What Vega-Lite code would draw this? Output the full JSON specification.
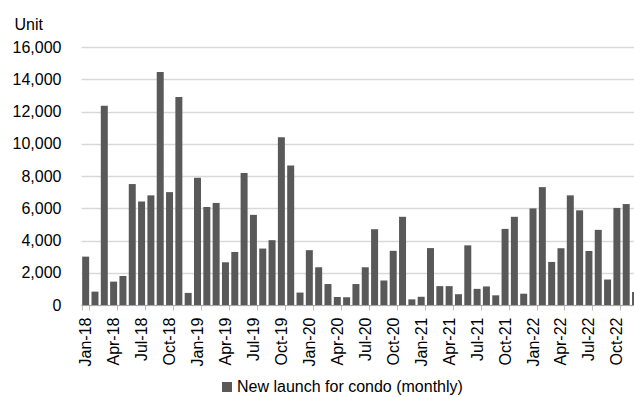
{
  "$schema": "https://vega.github.io/schema/vega-lite/v6.json",
  "autosize": {"type": "none"},
  "width": 553,
  "height": 258,
  "padding": {"left": 81, "top": 47, "right": 0, "bottom": 92},
  "background": "white",
  "config": {"font": "Liberation Sans", "view": {"stroke": null}},
  "title": {
    "text": "Figure 2: New launch for condo (2018-2022)",
    "anchor": "start",
    "frame": "group",
    "fontSize": 16,
    "fontWeight": "bold",
    "color": "#000000",
    "baseline": "alphabetic",
    "offset": 0,
    "dx": -65,
    "dy": -4
  },
  "data": {
    "values": [
      {"month": "Jan-18", "units": 3000}, {"month": "Feb-18", "units": 830}, {"month": "Mar-18", "units": 12360},
      {"month": "Apr-18", "units": 1450}, {"month": "May-18", "units": 1800}, {"month": "Jun-18", "units": 7500},
      {"month": "Jul-18", "units": 6420}, {"month": "Aug-18", "units": 6800}, {"month": "Sep-18", "units": 14450},
      {"month": "Oct-18", "units": 7000}, {"month": "Nov-18", "units": 12900}, {"month": "Dec-18", "units": 750},
      {"month": "Jan-19", "units": 7890}, {"month": "Feb-19", "units": 6070}, {"month": "Mar-19", "units": 6330},
      {"month": "Apr-19", "units": 2650}, {"month": "May-19", "units": 3290}, {"month": "Jun-19", "units": 8180},
      {"month": "Jul-19", "units": 5590}, {"month": "Aug-19", "units": 3500}, {"month": "Sep-19", "units": 4020},
      {"month": "Oct-19", "units": 10400}, {"month": "Nov-19", "units": 8650}, {"month": "Dec-19", "units": 770},
      {"month": "Jan-20", "units": 3400}, {"month": "Feb-20", "units": 2340}, {"month": "Mar-20", "units": 1300},
      {"month": "Apr-20", "units": 500}, {"month": "May-20", "units": 480}, {"month": "Jun-20", "units": 1300},
      {"month": "Jul-20", "units": 2340}, {"month": "Aug-20", "units": 4700}, {"month": "Sep-20", "units": 1520},
      {"month": "Oct-20", "units": 3360}, {"month": "Nov-20", "units": 5470}, {"month": "Dec-20", "units": 350},
      {"month": "Jan-21", "units": 510}, {"month": "Feb-21", "units": 3530}, {"month": "Mar-21", "units": 1170},
      {"month": "Apr-21", "units": 1170}, {"month": "May-21", "units": 670}, {"month": "Jun-21", "units": 3700},
      {"month": "Jul-21", "units": 1000}, {"month": "Aug-21", "units": 1150}, {"month": "Sep-21", "units": 600},
      {"month": "Oct-21", "units": 4720}, {"month": "Nov-21", "units": 5470}, {"month": "Dec-21", "units": 700},
      {"month": "Jan-22", "units": 5990}, {"month": "Feb-22", "units": 7310}, {"month": "Mar-22", "units": 2670},
      {"month": "Apr-22", "units": 3520}, {"month": "May-22", "units": 6800}, {"month": "Jun-22", "units": 5870},
      {"month": "Jul-22", "units": 3350}, {"month": "Aug-22", "units": 4660}, {"month": "Sep-22", "units": 1580},
      {"month": "Oct-22", "units": 6020}, {"month": "Nov-22", "units": 6260}, {"month": "Dec-22", "units": 800}
    ]
  },
  "mark": {"type": "bar", "clip": true},
  "encoding": {
    "x": {
      "field": "month",
      "type": "ordinal",
      "sort": null,
      "scale": {"range": [0, 559.2], "paddingInner": 0.25, "paddingOuter": 0.125},
      "axis": {
        "title": null,
        "values": ["Jan-18", "Apr-18", "Jul-18", "Oct-18", "Jan-19", "Apr-19", "Jul-19", "Oct-19",
                   "Jan-20", "Apr-20", "Jul-20", "Oct-20", "Jan-21", "Apr-21", "Jul-21", "Oct-21",
                   "Jan-22", "Apr-22", "Jul-22", "Oct-22"],
        "labelAngle": -90,
        "labelFontSize": 16,
        "labelColor": "#000000",
        "labelPadding": 7,
        "labelOverlap": false,
        "tickBand": "extent",
        "tickSize": 5,
        "tickColor": "#bfbfbf",
        "domainColor": "#a6a6a6",
        "grid": false
      }
    },
    "y": {
      "field": "units",
      "type": "quantitative",
      "scale": {"domain": [0, 16000], "nice": false},
      "axis": {
        "title": "Unit",
        "titleAngle": 0,
        "titleAlign": "left",
        "titleBaseline": "middle",
        "titleX": -67,
        "titleY": -23,
        "titleFontSize": 16,
        "titleFontWeight": "normal",
        "titleColor": "#000000",
        "values": [0, 2000, 4000, 6000, 8000, 10000, 12000, 14000, 16000],
        "format": ",.0f",
        "labelFontSize": 16,
        "labelColor": "#000000",
        "labelPadding": 20,
        "ticks": false,
        "domain": false,
        "gridColor": "#d9d9d9",
        "gridWidth": 1.3
      }
    },
    "color": {
      "datum": "New launch for condo (monthly)",
      "scale": {"range": ["#595959"]},
      "legend": {
        "orient": "none",
        "legendX": 138,
        "legendY": 332,
        "direction": "horizontal",
        "title": null,
        "symbolType": "square",
        "symbolSize": 100,
        "symbolStrokeWidth": 0,
        "labelFontSize": 16,
        "labelColor": "#000000",
        "labelOffset": 2,
        "labelLimit": 0
      }
    }
  }
}
